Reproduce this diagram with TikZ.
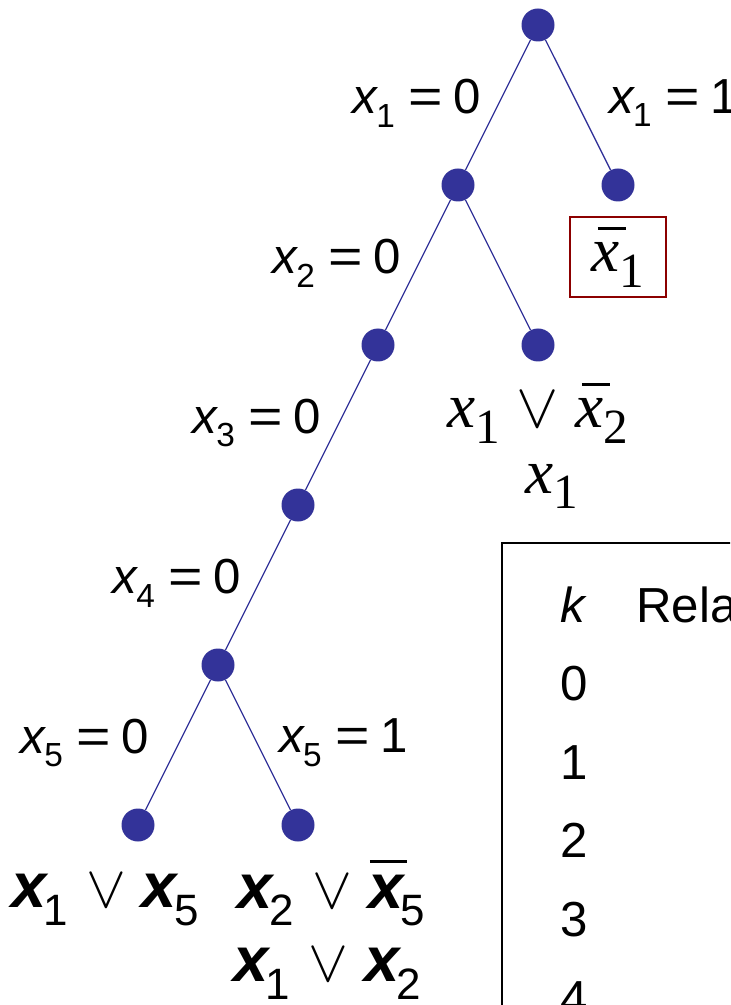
\RequirePackage{fix-cm}
\documentclass[tikz,border=0pt]{standalone}
\usepackage{graphicx}
\usepackage{fontspec}
\setmainfont{Liberation Sans}
\newfontfamily\tms{Liberation Serif}
\usetikzlibrary{positioning}
\definecolor{dotblue}{RGB}{51,51,153}
\definecolor{boxred}{RGB}{140,0,0}

\newlength{\barlen}
% bar over a letter: raise, shift, letter
\newcommand{\barover}[3]{\settowidth{\barlen}{#3}\rlap{\kern#2\rule[#1]{\barlen}{0.045em}}#3}
\newcommand{\eq}{\scalebox{1.2}[1]{=}}
\newcommand{\sx}[1]{\textit{x}\kern-0.04em\raisebox{-0.28em}{\fontsize{19}{19}\selectfont #1}}
\newcommand{\bx}[1]{\textbf{\textit{x}}\kern-0.08em\raisebox{-0.28em}{\fontsize{25}{25}\selectfont #1}}
\newcommand{\bbx}[1]{\barover{0.72em}{0.03em}{\textbf{\textit{x}}}\kern-0.08em\raisebox{-0.28em}{\fontsize{25}{25}\selectfont #1}}
\newcommand{\tx}[1]{\textit{x}\raisebox{-0.25em}{\fontsize{28}{28}\selectfont #1}}
\newcommand{\tbx}[1]{\barover{0.66em}{0.1em}{\textit{x}}\raisebox{-0.25em}{\fontsize{28}{28}\selectfont #1}}
\newcommand{\orsym}{{\fontsize{34}{34}\selectfont$\vee$}}

\begin{document}
\begin{tikzpicture}[
  on grid, node distance=3.2cm and 1.6cm,
  dot/.style={circle, fill=dotblue, minimum size=0.66cm, inner sep=0pt},
  branch/.style={dotblue, line width=0.75pt},
  lblL/.style={midway, anchor=east, inner sep=0pt, xshift=#1, yshift=0.04cm,
               text=black, font=\fontsize{28}{32}\selectfont},
  lblL/.default=-0.32cm,
  lblR/.style={midway, anchor=west, inner sep=0pt, xshift=#1, yshift=0.04cm,
               text=black, font=\fontsize{28}{32}\selectfont},
  tclause/.style={inner sep=0pt, font=\fontsize{36}{40}\selectfont\tms},
  clsbox/.style={tclause, draw=boxred, line width=1.1pt,
                 minimum width=1.92cm, minimum height=1.6cm},
  bclause/.style={inner sep=0pt, font=\fontsize{36}{42}\selectfont},
  rowtxt/.style={anchor=base west, inner sep=0pt, font=\fontsize{28}{32}\selectfont}
]
\useasboundingbox (0,0) rectangle (14.6,-20.1);
\clip (0,0) rectangle (14.6,-20.1);

% search tree
\node[dot] (root) at (10.76,-0.5) {};
\node[dot, below left=of root]  (n1)  {};
\node[dot, below right=of root] (n1r) {};
\node[dot, below left=of n1]    (n2)  {};
\node[dot, below right=of n1]   (n2r) {};
\node[dot, below left=of n2]    (n3)  {};
\node[dot, below left=of n3]    (n4)  {};
\node[dot, below left=of n4]    (n5)  {};
\node[dot, below right=of n4]   (n5r) {};

\draw[branch] (root) -- node[lblL]{\sx{1} \eq\hspace{0.22em}0} (n1);
\draw[branch] (root) -- node[lblR=0.61cm]{\sx{1} \eq\hspace{0.22em}1} (n1r);
\draw[branch] (n1) -- node[lblL]{\sx{2} \eq\hspace{0.22em}0} (n2);
\draw[branch] (n1) -- (n2r);
\draw[branch] (n2) -- node[lblL]{\sx{3} \eq\hspace{0.22em}0} (n3);
\draw[branch] (n3) -- node[lblL]{\sx{4} \eq\hspace{0.22em}0} (n4);
\draw[branch] (n4) -- node[lblL=-0.56cm]{\sx{5} \eq\hspace{0.22em}0} (n5);
\draw[branch] (n4) -- node[lblR=0.41cm]{\sx{5} \eq\hspace{0.22em}1} (n5r);

% clauses at the leaves
\node[clsbox, below=1.44cm of n1r] (c1) {\tbx{1}};
\node[tclause, below=1.36cm of n2r] (c2a)
  {\tx{1}\hspace{0.26em}$\vee$\hspace{0.26em}\tbx{2}};
\node[tclause, below=1.47cm of c2a, xshift=0.28cm] (c2b) {\tx{1}};
\node[bclause, below=1.5cm of n5, xshift=-0.66cm] (c5a)
  {\bx{1}\hspace{0.3em}\orsym\hspace{0.24em}\bx{5}};
\node[bclause, below=1.36cm of n5r, xshift=0.66cm] (c5b)
  {\bx{2}\hspace{0.3em}\orsym\hspace{0.24em}\bbx{5}};
\node[bclause, below=1.62cm of c5b, xshift=-0.08cm] (c5c)
  {\bx{1}\hspace{0.3em}\orsym\hspace{0.24em}\bx{2}};

% table
\node[draw, line width=1.1pt, anchor=north west, minimum width=6cm,
      minimum height=10.5cm] (tbl) at (10.02,-10.84) {};
\node[rowtxt] (hk) at (11.2,-12.44) {\textit{k}};
\node[rowtxt] (hrel) at (12.72,-12.44) {Relax};
\foreach \k [count=\i] in {0,...,4}
  \node[rowtxt] (r\k) at (11.2,{-12.44-1.572*\i}) {\k};
\end{tikzpicture}
\end{document}
